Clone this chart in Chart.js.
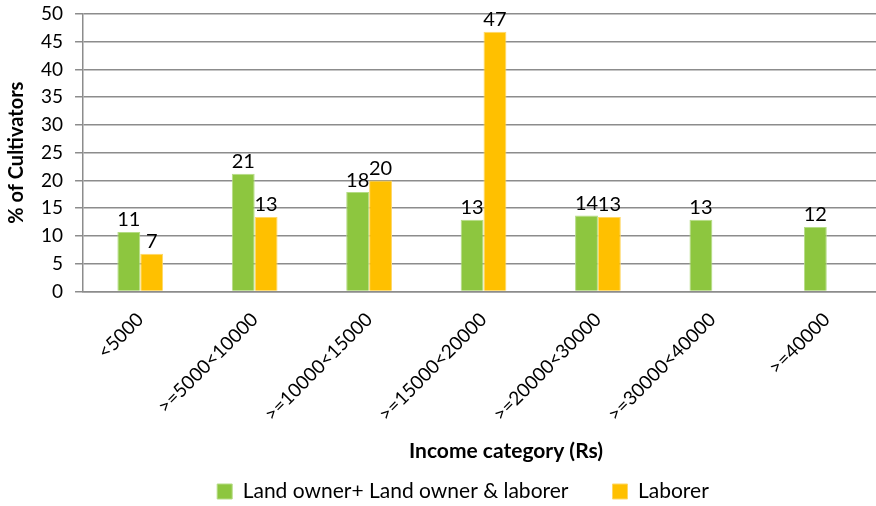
<!DOCTYPE html>
<html>
<head>
<meta charset="utf-8">
<script src="https://cdn.jsdelivr.net/npm/chart.js@4/dist/chart.umd.min.js"></script>
<style>
  html, body { margin: 0; padding: 0; background: #fff; overflow: hidden; }
  #wrap { width: 884px; height: 506px; }
</style>
</head>
<body>
<div id="wrap"><canvas id="c" width="884" height="506"></canvas></div>
<script>
// Income categories (Rs)
const categories = ['<5000', '>=5000<10000', '>=10000<15000', '>=15000<20000', '>=20000<30000', '>=30000<40000', '>=40000'];
// % of cultivators per category
const ownerValues = [10.7, 21.2, 17.9, 12.9, 13.7, 12.9, 11.6];
const laborerValues = [6.8, 13.4, 20.0, 46.8, 13.4, null, null];
const seriesNames = ['Land owner+ Land owner & laborer', 'Laborer'];
const yTickValues = [0, 5, 10, 15, 20, 25, 30, 35, 40, 45, 50];

const FONT = 'Lato';
const GRID = '#8c8c8c';

// Value labels above each bar (rounded to whole percent)
const barValueLabels = {
  id: 'barValueLabels',
  afterDatasetsDraw(chart) {
    const ctx = chart.ctx;
    ctx.save();
    ctx.font = '20px ' + FONT;
    ctx.fillStyle = '#000';
    ctx.textAlign = 'center';
    ctx.textBaseline = 'bottom';
    chart.data.datasets.forEach((ds, i) => {
      const meta = chart.getDatasetMeta(i);
      meta.data.forEach((bar, j) => {
        const v = ds.data[j];
        if (v === null || v === undefined) return;
        ctx.fillText(String(Math.round(v)), bar.x, bar.y - 2);
      });
    });
    ctx.restore();
  }
};

// Nudge the bottom title and legend after layout
const boxShift = {
  id: 'boxShift',
  afterLayout(chart, args, opts) {
    const shiftBox = (box, d) => {
      if (!box || !d) return;
      box.left += d.x || 0; box.right += d.x || 0;
      box.top += d.y || 0; box.bottom += d.y || 0;
    };
    shiftBox(chart.titleBlock, opts.title);
    shiftBox(chart.legend, opts.legend);
  }
};

new Chart(document.getElementById('c'), {
  type: 'bar',
  data: {
    labels: categories,
    datasets: [
      { label: seriesNames[0], data: ownerValues, backgroundColor: '#8dc63f', borderColor: '#b5dc85', borderWidth: 1 },
      { label: seriesNames[1], data: laborerValues, backgroundColor: '#ffc000', borderColor: '#ffd766', borderWidth: 1 }
    ]
  },
  options: {
    responsive: false,
    animation: false,
    devicePixelRatio: 1,
    datasets: { bar: { barPercentage: 1, categoryPercentage: 0.4 } },
    layout: { padding: { top: 14, right: 0, left: 0, bottom: -37 } },
    scales: {
      x: {
        grid: { display: false, drawTicks: false },
        border: { display: true, color: GRID, width: 1.5 },
        ticks: {
          color: '#000',
          font: { family: FONT, size: 19 },
          minRotation: 45,
          maxRotation: 45,
          padding: 17,
          autoSkip: false
        }
      },
      y: {
        min: yTickValues[0],
        max: yTickValues[yTickValues.length - 1],
        afterBuildTicks(axis) { axis.ticks = yTickValues.map(v => ({ value: v })); },
        // the top tick label may overhang the plot; the layout padding covers it
        afterFit(axis) { axis.paddingTop = 0; },
        grid: { color: GRID, lineWidth: 1.5, tickLength: 8 },
        border: { display: true, color: GRID, width: 1.5 },
        ticks: { color: '#000', font: { family: FONT, size: 19 }, padding: 12, autoSkip: false },
        title: {
          display: true,
          text: '% of Cultivators',
          color: '#000',
          font: { family: FONT, size: 20, weight: 'bold' },
          padding: { top: 5, bottom: 0 }
        }
      }
    },
    plugins: {
      title: {
        display: true,
        position: 'bottom',
        weight: 500,
        text: 'Income category (Rs)',
        color: '#000',
        font: { family: FONT, size: 21, weight: 'bold' },
        padding: { top: 0, bottom: 0 }
      },
      legend: {
        position: 'bottom',
        labels: {
          color: '#000',
          font: { family: FONT, size: 21 },
          boxWidth: 15,
          boxHeight: 15,
          padding: 44
        }
      },
      tooltip: { enabled: false },
      boxShift: { title: { x: 64, y: -4 }, legend: { x: 21, y: -31 } }
    }
  },
  plugins: [barValueLabels, boxShift]
});
</script>
</body>
</html>
